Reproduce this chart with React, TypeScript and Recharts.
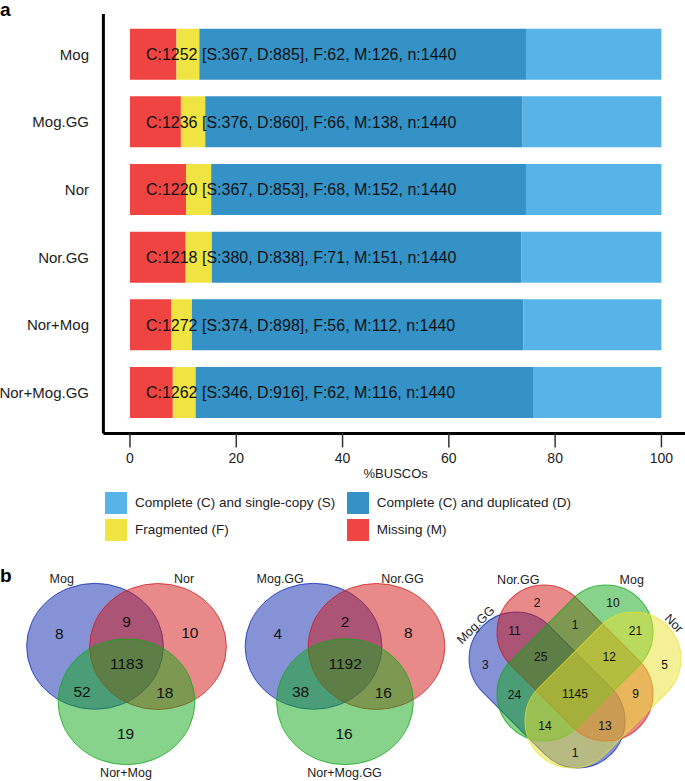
import React from 'react';
import { BarChart, Bar, XAxis, YAxis, LabelList, Legend, ScatterChart, Scatter } from 'recharts';

// ---------------- Panel a: BUSCO data ----------------
const assemblies = ['Mog', 'Mog.GG', 'Nor', 'Nor.GG', 'Nor+Mog', 'Nor+Mog.GG'];
const singleCopy = [367, 376, 367, 380, 374, 346];
const duplicated = [885, 860, 853, 838, 898, 916];
const fragmented = [62, 66, 68, 71, 56, 62];
const missing = [126, 138, 152, 151, 112, 116];
const totalBuscos = [1440, 1440, 1440, 1440, 1440, 1440];
const xTicks = [0, 20, 40, 60, 80, 100];
const legendLabels = [
  'Complete (C) and single-copy (S)',
  'Complete (C) and duplicated (D)',
  'Fragmented (F)',
  'Missing (M)',
];
const legendColors = ['#56B4E9', '#3492C7', '#F0E442', '#F04442'];
const LABEL_AT = 3; // % position where the summary text starts

const pct = (v: number, n: number) => (v / n) * 100;

const barData = assemblies.map((name, i) => ({
  name,
  M: pct(missing[i], totalBuscos[i]),
  F: pct(fragmented[i], totalBuscos[i]),
  D: pct(duplicated[i], totalBuscos[i]),
  S: pct(singleCopy[i], totalBuscos[i]),
  label: `C:${singleCopy[i] + duplicated[i]} [S:${singleCopy[i]}, D:${duplicated[i]}], F:${fragmented[i]}, M:${missing[i]}, n:${totalBuscos[i]}`,
}));

// ---------------- Panel b: Venn data ----------------
const venn3Regions = ['A', 'B', 'C', 'AB', 'AC', 'BC', 'ABC'];
const vennRawSets = ['Mog', 'Nor', 'Nor+Mog'];
const vennRawCounts = [8, 10, 19, 9, 52, 18, 1183];
const vennGGSets = ['Mog.GG', 'Nor.GG', 'Nor+Mog.GG'];
const vennGGCounts = [4, 8, 16, 2, 38, 16, 1192];

const venn4Sets = ['Mog.GG', 'Nor.GG', 'Mog', 'Nor'];
const venn4Regions = ['A', 'B', 'C', 'D', 'AB', 'BC', 'CD', 'AC', 'BD', 'AD', 'ABC', 'BCD', 'ACD', 'ABD', 'ABCD'];
const venn4Counts = [3, 2, 10, 5, 11, 1, 21, 24, 9, 1, 25, 12, 14, 13, 1145];

// layout (chart units) for the Venn panel
const VW = 685;
const VH = 221;
const VX: [number, number] = [0, 685];
const VY: [number, number] = [0, 221];
const KX = VW / (VX[1] - VX[0]);
const KY = VH / (VY[1] - VY[0]);

const setColors: Record<string, string> = { A: '#0B25AD', B: '#D11515', C: '#11A717', D: '#E9E12D' };

const V3_RX = 68.4;
const V3_RY = 63;
const v3Centers: Record<string, [number, number]> = { A: [95, 86.3], B: [158, 86.5], C: [126.5, 141.7] };
const v3RegionPos: Record<string, [number, number]> = {
  A: [59.3, 73], B: [189.8, 72], C: [125.5, 173],
  AB: [126.5, 61], AC: [82, 131.5], BC: [164.8, 132.8], ABC: [126.6, 103.3],
};
const v3SetPos: [number, number][] = [[61.7, 19], [184, 19], [126, 212.5]];
const v3Offsets = [0, 218.5];

const V4_HALF = 90.8;
const V4_R = 47;
const v4Shapes: Record<string, [number, number, number]> = {
  A: [547, 130, 45], B: [575, 103, 45], C: [575, 103, -45], D: [603, 130, -45],
};
const v4RegionPos: Record<string, [number, number]> = {
  A: [485.3, 104.3], B: [537, 42.7], C: [613, 42.7], D: [664.7, 104.3],
  AB: [514.5, 70.5], BC: [575, 64.3], CD: [635.5, 70.5],
  AC: [514.5, 134.3], BD: [635.5, 133.5], AD: [575, 192.7],
  ABC: [540.7, 96.7], BCD: [609.3, 96.7], ACD: [545, 165.5], ABD: [605, 165.5],
  ABCD: [575, 133.3],
};
const v4SetPos: [number, number, number][] = [[475.7, 65, -45], [518.3, 20.3, 0], [631.7, 20, 0], [674, 63.3, 45]];

const setKeys = ['A', 'B', 'C', 'D'];

const v3ShapeData = v3Offsets.flatMap((off) =>
  ['A', 'B', 'C'].map((s) => ({ x: v3Centers[s][0] + off, y: v3Centers[s][1], set: s }))
);
const v4ShapeData = setKeys.map((s) => ({ x: v4Shapes[s][0], y: v4Shapes[s][1], set: s, angle: v4Shapes[s][2] }));

const countData = [
  ...venn3Regions.map((r, i) => ({ x: v3RegionPos[r][0] + v3Offsets[0], y: v3RegionPos[r][1], text: String(vennRawCounts[i]), fs: 15.5, rot: 0 })),
  ...venn3Regions.map((r, i) => ({ x: v3RegionPos[r][0] + v3Offsets[1], y: v3RegionPos[r][1], text: String(vennGGCounts[i]), fs: 15.5, rot: 0 })),
  ...venn4Regions.map((r, i) => ({ x: v4RegionPos[r][0], y: v4RegionPos[r][1], text: String(venn4Counts[i]), fs: 12, rot: 0 })),
];

const setLabelData = [
  ...vennRawSets.map((s, i) => ({ x: v3SetPos[i][0] + v3Offsets[0], y: v3SetPos[i][1], text: s, fs: 12.5, rot: 0 })),
  ...vennGGSets.map((s, i) => ({ x: v3SetPos[i][0] + v3Offsets[1], y: v3SetPos[i][1], text: s, fs: 12.5, rot: 0 })),
  ...venn4Sets.map((s, i) => ({ x: v4SetPos[i][0], y: v4SetPos[i][1], text: s, fs: 12.5, rot: v4SetPos[i][2] })),
];

// ---------------- shapes ----------------
const EllipseShape = (p: any) => {
  const c = setColors[p.payload.set];
  return (
    <ellipse cx={p.cx} cy={p.cy} rx={V3_RX * KX} ry={V3_RY * KY} fill={c} fillOpacity={0.5}
      stroke={c} strokeOpacity={0.75} strokeWidth={1} />
  );
};

const StadiumShape = (p: any) => {
  const c = setColors[p.payload.set];
  const w = 2 * V4_HALF * KX;
  const h = 2 * V4_R * KY;
  return (
    <rect x={p.cx - w / 2} y={p.cy - h / 2} width={w} height={h} rx={h / 2} ry={h / 2}
      transform={`rotate(${p.payload.angle} ${p.cx} ${p.cy})`}
      fill={c} fillOpacity={0.5} stroke={c} strokeOpacity={0.75} strokeWidth={1} />
  );
};

const TextShape = (color: string, dy: string) => (p: any) => (
  <text x={p.cx} y={p.cy} dy={dy} textAnchor="middle" fontSize={p.payload.fs} fill={color}
    transform={p.payload.rot ? `rotate(${p.payload.rot} ${p.cx} ${p.cy})` : undefined}>
    {p.payload.text}
  </text>
);

const renderBarLabel = (props: any) => {
  const vb = props.viewBox || props;
  const i = props.index ?? 0;
  const sPct = barData[i].S;
  const ppu = vb.width / sPct;
  const right = vb.x + vb.width;
  const x = right - (100 - LABEL_AT) * ppu;
  return (
    <text x={x} y={vb.y + vb.height / 2} dy="0.36em" fontSize={16} fill="#111" textAnchor="start">
      {props.value}
    </text>
  );
};

const renderLegend = () => (
  <div style={{ position: 'relative', width: 685, height: 49 }}>
    {legendLabels.map((lab, i) => {
      const col = i % 2;
      const row = Math.floor(i / 2);
      const left = col === 0 ? 105 : 346.7;
      const top = row * 27;
      return (
        <React.Fragment key={lab}>
          <div style={{ position: 'absolute', left, top, width: 22, height: 22, background: legendColors[i] }} />
          <div style={{ position: 'absolute', left: left + 30, top, height: 22, lineHeight: '22px', fontSize: 13.5, color: '#222', whiteSpace: 'nowrap' }}>
            {lab}
          </div>
        </React.Fragment>
      );
    })}
  </div>
);

export default function App() {
  return (
    <div style={{ position: 'absolute', left: 0, top: 0, width: 685, height: 781, overflow: 'hidden', background: '#fff', fontFamily: "'Liberation Sans', Arial, Helvetica, sans-serif" }}>
      <div style={{ position: 'absolute', left: 0, top: 0 }}>
        <BarChart layout="vertical" width={690} height={560} data={barData}
          margin={{ top: 13.9, right: 2, bottom: 19.3, left: 0 }}>
          <XAxis type="number" domain={[-5, 105]} ticks={xTicks} allowDataOverflow height={58.3}
            tickSize={14} tickMargin={5.6}
            axisLine={{ stroke: '#000', strokeWidth: 3 }}
            tickLine={{ stroke: '#333', strokeWidth: 1.5 }}
            tick={{ fontSize: 14, fill: '#222' }}
            label={{ value: '%BUSCOs', position: 'insideBottom', offset: 14, fontSize: 13, fill: '#222' }} />
          <YAxis type="category" dataKey="name" width={103.4} padding={{ top: 6.77, bottom: 6.77 }}
            tickLine={false} tickSize={6} tickMargin={8.4}
            axisLine={{ stroke: '#000', strokeWidth: 3 }}
            tick={{ fontSize: 15, fill: '#222' }} />
          <Legend verticalAlign="bottom" align="left" content={renderLegend}
            wrapperStyle={{ left: 0, width: 685 }} />
          <Bar dataKey="M" stackId="b" fill="#F04442" barSize={51} isAnimationActive={false} />
          <Bar dataKey="F" stackId="b" fill="#F0E442" barSize={51} isAnimationActive={false} />
          <Bar dataKey="D" stackId="b" fill="#3492C7" barSize={51} isAnimationActive={false} />
          <Bar dataKey="S" stackId="b" fill="#56B4E9" barSize={51} isAnimationActive={false}>
            <LabelList dataKey="label" content={renderBarLabel} />
          </Bar>
        </BarChart>
      </div>
      <div style={{ position: 'absolute', left: 0, top: 560 }}>
        <ScatterChart width={VW} height={VH} margin={{ top: 0, right: 0, bottom: 0, left: 0 }}>
          <XAxis type="number" dataKey="x" domain={VX} hide allowDataOverflow />
          <YAxis type="number" dataKey="y" domain={VY} hide reversed allowDataOverflow />
          <Scatter data={v3ShapeData} shape={EllipseShape} isAnimationActive={false} />
          <Scatter data={v4ShapeData} shape={StadiumShape} isAnimationActive={false} />
          <Scatter data={countData} shape={TextShape('#111', '0.36em')} isAnimationActive={false} />
          <Scatter data={setLabelData} shape={TextShape('#222', '0.33em')} isAnimationActive={false} />
        </ScatterChart>
      </div>
      <div style={{ position: 'absolute', left: 0, top: 0, fontSize: 19, fontWeight: 'bold', lineHeight: '20px' }}>a</div>
      <div style={{ position: 'absolute', left: 0, top: 566, fontSize: 19, fontWeight: 'bold', lineHeight: '20px' }}>b</div>
    </div>
  );
}
